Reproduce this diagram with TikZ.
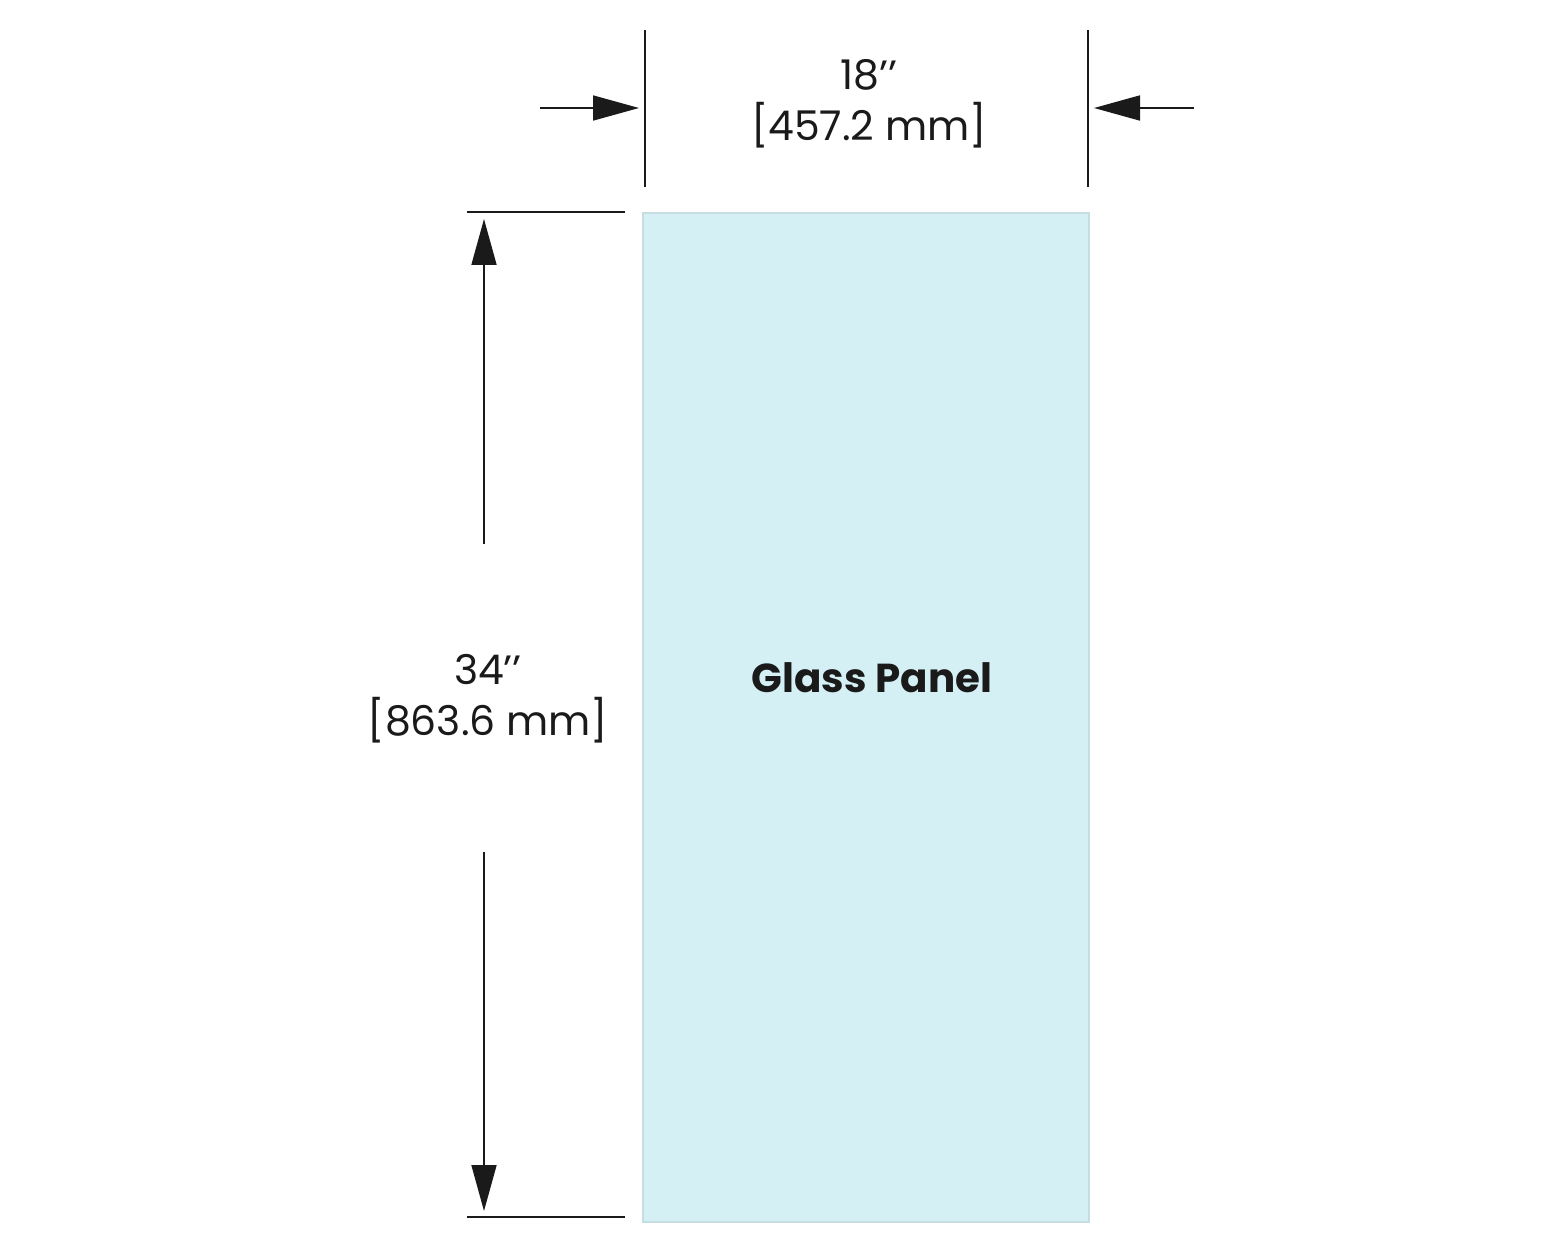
\documentclass[tikz,border=0pt]{standalone}
\usepackage{fontspec}
\setmainfont{Poppins}
\usetikzlibrary{arrows.meta}
\definecolor{glassfill}{HTML}{D4F0F5}
\definecolor{glassedge}{HTML}{C6DDE1}
\definecolor{ink}{HTML}{1A1A1A}
\tikzset{
  dimline/.style={draw=ink, line width=1pt},
  dimarrow/.style={draw=ink, line width=1pt, -{Triangle[length=0.92cm,width=0.5cm]}},
  dimtext/.style={font=\fontsize{23.3}{26}\selectfont, text=ink, align=center, inner sep=0pt},
  paneltext/.style={font=\fontsize{23}{26}\selectfont\bfseries, text=ink, inner sep=0pt}
}
\begin{document}
\begin{tikzpicture}[x=0.02cm, y=-0.02cm]
\useasboundingbox (0,0) rectangle (1564,1251);
% panel
\node[draw=glassedge, fill=glassfill, line width=1.2pt, minimum width=446*0.02cm, minimum height=1009*0.02cm, inner sep=0pt, anchor=north west] (panel) at (642,212) {};
\node[paneltext] (plabel) at (872,678) {Glass Panel};
% top extension lines
\coordinate (tlA) at (645,30); \coordinate (tlB) at (645,187);
\coordinate (trA) at (1088,30); \coordinate (trB) at (1088,187);
\draw[dimline] (tlA) -- (tlB);
\draw[dimline] (trA) -- (trB);
% top arrows
\coordinate (a1s) at (540,108); \coordinate (a1e) at (639,108);
\coordinate (a2s) at (1194,108); \coordinate (a2e) at (1094,108);
\draw[dimarrow] (a1s) -- (a1e);
\draw[dimarrow] (a2s) -- (a2e);
\node[dimtext] (wtext) at (869,104) {18’’\\[3pt][457.2 mm]};
% left extension lines
\coordinate (lt1) at (467,212); \coordinate (lt2) at (625,212);
\coordinate (lb1) at (467,1217); \coordinate (lb2) at (625,1217);
\draw[dimline] (lt1) -- (lt2);
\draw[dimline] (lb1) -- (lb2);
% left arrows
\coordinate (v1s) at (484,544); \coordinate (v1e) at (484,219);
\coordinate (v2s) at (484,852); \coordinate (v2e) at (484,1211);
\draw[dimarrow] (v1s) -- (v1e);
\draw[dimarrow] (v2s) -- (v2e);
\node[dimtext] (htext) at (488,699) {34’’\\[3pt][863.6 mm]};
\end{tikzpicture}
\end{document}
